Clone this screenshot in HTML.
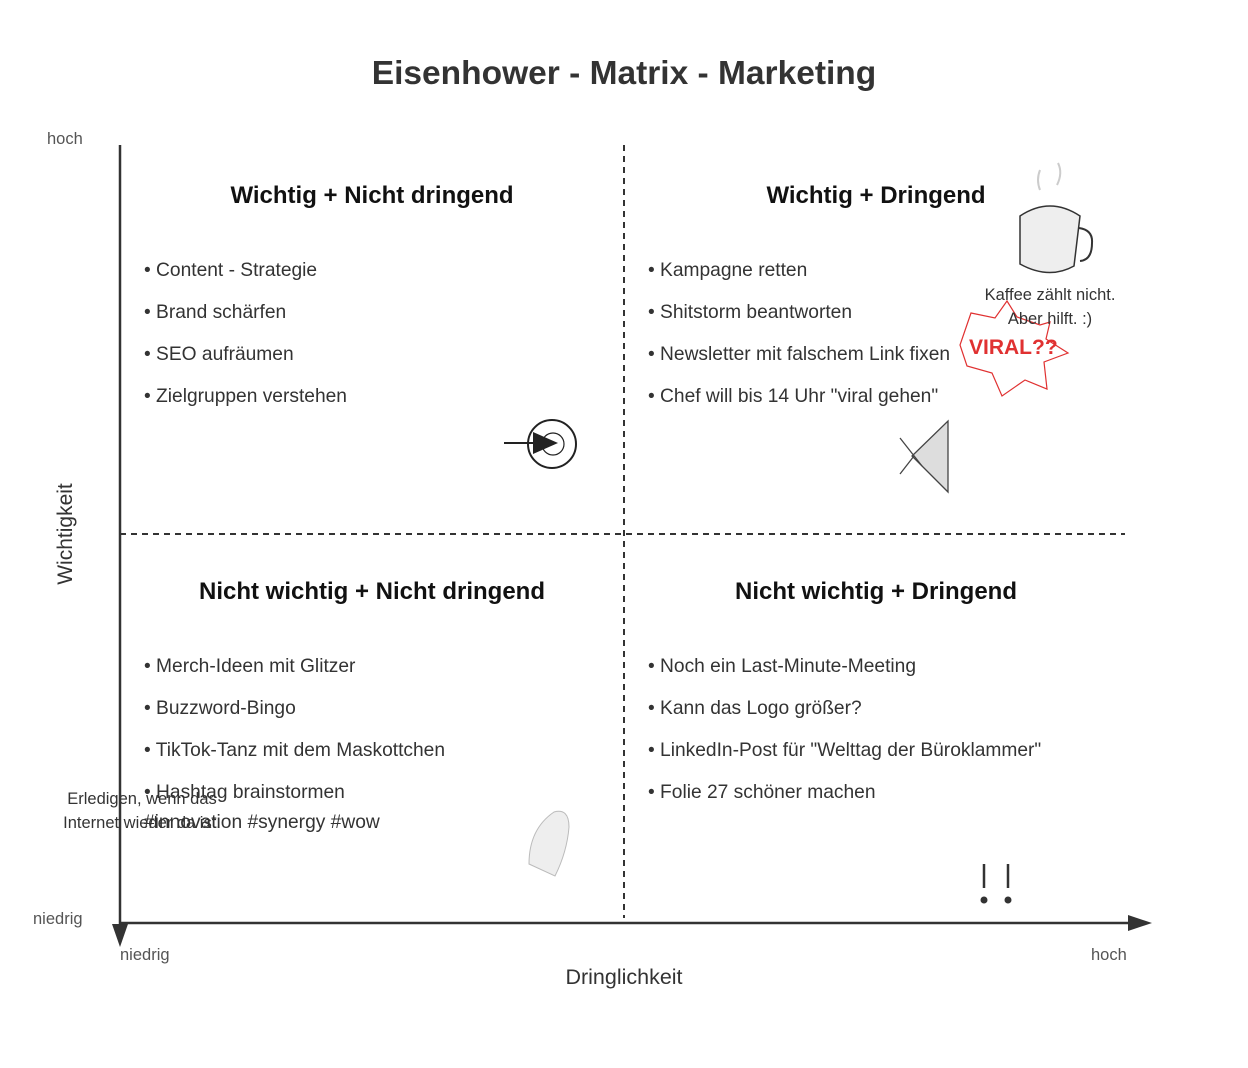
<!DOCTYPE html>
<html><head><meta charset="utf-8"><style>
html,body{margin:0;padding:0;background:#fff;}
svg{display:block;}
text{font-family:"Liberation Sans",Arial,sans-serif;}
</style></head><body>
<svg width="1248" height="1068" viewBox="0 0 1248 1068" xmlns="http://www.w3.org/2000/svg">
<rect width="1248" height="1068" fill="#fff"/>
<text x="624" y="84" text-anchor="middle" font-size="33.5" font-weight="bold" fill="#333">Eisenhower - Matrix - Marketing</text>

<line x1="624" y1="145" x2="624" y2="918" stroke="#333" stroke-width="2" stroke-dasharray="6,5"/>
<line x1="120" y1="534" x2="1125" y2="534" stroke="#333" stroke-width="2" stroke-dasharray="6,5"/>

<line x1="120" y1="145" x2="120" y2="930" stroke="#333" stroke-width="2.5"/>
<polygon points="112,924 128,924 120,947" fill="#333"/>
<line x1="120" y1="923" x2="1132" y2="923" stroke="#333" stroke-width="2.5"/>
<polygon points="1128,915 1152,923 1128,931" fill="#333"/>

<g font-size="16.5" fill="#555">
<text x="47" y="144">hoch</text>
<text x="33" y="924">niedrig</text>
<text x="120" y="960">niedrig</text>
<text x="1091" y="960">hoch</text>
</g>
<text x="624" y="984" text-anchor="middle" font-size="21.5" fill="#333">Dringlichkeit</text>
<text transform="translate(72,534) rotate(-90)" text-anchor="middle" font-size="21" fill="#333">Wichtigkeit</text>

<g font-size="24" font-weight="bold" fill="#111" text-anchor="middle">
<text x="372" y="203">Wichtig + Nicht dringend</text>
<text x="876" y="203">Wichtig + Dringend</text>
<text x="372" y="599">Nicht wichtig + Nicht dringend</text>
<text x="876" y="599">Nicht wichtig + Dringend</text>
</g>

<g font-size="19.2" fill="#333">
<text x="144" y="276">• Content - Strategie</text>
<text x="144" y="318">• Brand schärfen</text>
<text x="144" y="360">• SEO aufräumen</text>
<text x="144" y="402">• Zielgruppen verstehen</text>
<text x="648" y="276">• Kampagne retten</text>
<text x="648" y="318">• Shitstorm beantworten</text>
<text x="648" y="360">• Newsletter mit falschem Link fixen</text>
<text x="648" y="402">• Chef will bis 14 Uhr "viral gehen"</text>
<text x="144" y="672">• Merch-Ideen mit Glitzer</text>
<text x="144" y="714">• Buzzword-Bingo</text>
<text x="144" y="756">• TikTok-Tanz mit dem Maskottchen</text>
<text x="144" y="798">• Hashtag brainstormen</text>
<text x="144" y="828">#innovation #synergy #wow</text>
<text x="648" y="672">• Noch ein Last-Minute-Meeting</text>
<text x="648" y="714">• Kann das Logo größer?</text>
<text x="648" y="756">• LinkedIn-Post für "Welttag der Büroklammer"</text>
<text x="648" y="798">• Folie 27 schöner machen</text>
</g>

<g font-size="16.5" fill="#333" text-anchor="middle">
<text x="142" y="804">Erledigen, wenn das</text>
<text x="142" y="828">Internet wieder da ist.</text>
</g>

<circle cx="552" cy="444" r="24" fill="none" stroke="#222" stroke-width="2"/>
<circle cx="553" cy="444" r="11" fill="none" stroke="#222" stroke-width="1.2"/>
<line x1="504" y1="443" x2="535" y2="443" stroke="#222" stroke-width="2"/>
<polygon points="533,432 558,443 533,454" fill="#222"/>

<path d="M1040 170 q-4 10 0 20 M1058 163 q5 10 -1 22" fill="none" stroke="#ccc" stroke-width="2"/>
<path d="M1020 216 q30 -20 60 0 l-6 50 q-25 14 -54 -2 z" fill="#eee" stroke="#333" stroke-width="1.5"/>
<path d="M1079 228 q14 2 13 15 q0 17 -12 18" fill="none" stroke="#333" stroke-width="2"/>
<text x="1050" y="300" text-anchor="middle" font-size="16.5" fill="#333">Kaffee zählt nicht.</text>

<polygon points="1007,301 995,318 971,313 960,345 967,366 992,373 1002,396 1025,380 1047,389 1044,362 1068,353 1046,339 1050,322 1040,325 1017,317" fill="none" stroke="#e03131" stroke-width="1.2"/>
<text x="1050" y="324" text-anchor="middle" font-size="16.5" fill="#333">Aber hilft. :)</text>
<text x="969" y="354" font-size="21" font-weight="bold" fill="#e03131">VIRAL??</text>

<polygon points="948,421 948,492 912,456" fill="#ddd" stroke="#444" stroke-width="1.3"/>
<line x1="900" y1="438" x2="922" y2="466" stroke="#444" stroke-width="1.3"/>
<line x1="900" y1="474" x2="914" y2="456" stroke="#444" stroke-width="1.3"/>

<path d="M529 864 q0 -35 25 -52 q15 -4 15 15 q-2 25 -14 49 z" fill="#eee" stroke="#bbb" stroke-width="1"/>

<line x1="984" y1="864" x2="984" y2="888" stroke="#333" stroke-width="2.5"/>
<line x1="1008" y1="864" x2="1008" y2="888" stroke="#333" stroke-width="2.5"/>
<circle cx="984" cy="900" r="3.5" fill="#333"/>
<circle cx="1008" cy="900" r="3.5" fill="#333"/>
</svg>
</body></html>
